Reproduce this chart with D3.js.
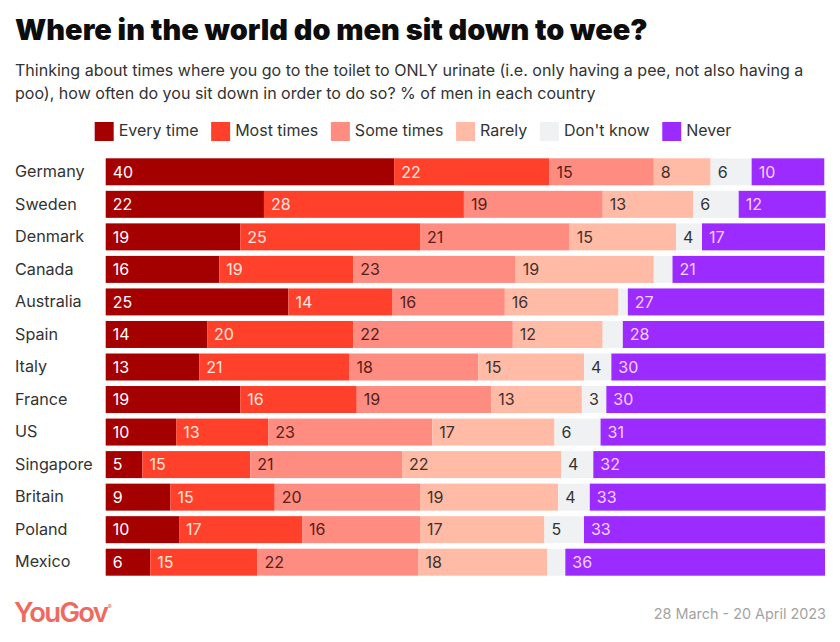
<!DOCTYPE html>
<html>
<head>
<meta charset="utf-8">
<style>
  html, body { margin: 0; padding: 0; background: #fff; }
  svg { display: block; }
  text { font-family: Inter, "Noto Sans", sans-serif; }
  .title { font-size: 28.95px; font-weight: 900; fill: #0d0d0d; }
  .sub { font-size: 16.05px; fill: #333; }
  .legend text { font-size: 16px; fill: #333; }
  .cat text { font-size: 16.2px; fill: #333; }
  .val { font-size: 16px; }
  .logo { font-size: 27.5px; font-weight: 600; fill: #ee6a60; letter-spacing: -1.7px; }
  .reg { font-size: 6px; fill: #ee6a60; }
  .date { font-size: 14.4px; fill: #a3a3a3; }
</style>
</head>
<body>
<svg width="840" height="642"></svg>
<script src="https://d3js.org/d3.v7.min.js"></script>
<script>
var countries = ["Germany", "Sweden", "Denmark", "Canada", "Australia", "Spain", "Italy", "France", "US", "Singapore", "Britain", "Poland", "Mexico"];
var answers = ["Every time", "Most times", "Some times", "Rarely", "Don't know", "Never"];

var everyTime = [40.1, 22.0, 18.7, 15.8, 25.4, 14.1, 13.0, 18.7, 9.8, 5.1, 9.0, 10.2, 6.2];
var mostTimes = [21.6, 27.8, 25.0, 18.6, 14.49, 20.3, 20.9, 16.2, 12.8, 15.0, 14.5, 17.1, 14.9];
var someTimes = [14.5, 19.3, 20.8, 22.6, 15.6, 22.2, 17.9, 18.7, 22.8, 21.1, 20.2, 16.4, 22.4];
var rarely = [7.9, 12.6, 14.8, 19.2, 15.8, 12.49, 14.7, 12.6, 17.0, 22.1, 19.2, 17.3, 17.9];
var dontKnow = [5.7, 6.3, 3.6, 2.6, 1.3, 2.8, 3.8, 3.4, 6.4, 4.49, 4.4, 5.49, 2.5];
var never = [10.1, 12.1, 17.1, 21.1, 27.3, 28.0, 29.8, 30.49, 31.3, 32.2, 32.8, 33.49, 36.1];

var seriesValues = [everyTime, mostTimes, someTimes, rarely, dontKnow, never];

var fills = ["#a50000", "#ff412c", "#ff8c80", "#ffbba6", "#f0f1f3", "#9b2bff"];
var labelColors = ["#ffffff", "#ffe6df", "#56201b", "#3c3230", "#333333", "#f6d2ff"];

var svg = d3.select("svg");

svg.append("text").attr("class", "title").attr("x", 15).attr("y", 40)
    .text("Where in the world do men sit down to wee?");

svg.append("text").attr("class", "sub").attr("x", 15).attr("y", 76)
    .text("Thinking about times where you go to the toilet to ONLY urinate (i.e. only having a pee, not also having a");
svg.append("text").attr("class", "sub").attr("x", 15).attr("y", 99)
    .text("poo), how often do you sit down in order to do so? % of men in each country");

// legend, each item follows the width of the one before
var legend = svg.append("g").attr("class", "legend");
var legendX = 94.7;
answers.forEach(function(name, i) {
    legend.append("rect")
        .attr("x", legendX).attr("y", 122)
        .attr("width", 19).attr("height", 19)
        .attr("fill", fills[i]);
    var t = legend.append("text")
        .attr("x", legendX + 24).attr("y", 135.5)
        .text(name);
    legendX += 24 + t.node().getComputedTextLength() + 12.6;
});

var x = d3.scaleLinear().domain([0, 100]).range([105.7, 825]);
var y = d3.scaleBand().domain(countries).range([158.3, 575.7]).paddingInner(0.17);

var cat = svg.append("g").attr("class", "cat")
    .attr("transform", "translate(" + x(0) + ",0)")
    .call(d3.axisLeft(y).tickSize(0));
cat.select(".domain").remove();
cat.selectAll("text")
    .attr("x", 15 - x(0))
    .style("text-anchor", "start");

var rows = countries.map(function(c, r) {
    var row = {};
    answers.forEach(function(a, s) { row[a] = seriesValues[s][r]; });
    row.country = c;
    return row;
});

var stacked = d3.stack().keys(answers)(rows);

var groups = svg.selectAll(".series")
    .data(stacked)
    .enter().append("g")
    .attr("class", "series");

groups.selectAll("rect")
    .data(function(d) { return d; })
    .enter().append("rect")
    .attr("x", function(d) { return x(d[0]); })
    .attr("y", function(d) { return y(d.data.country); })
    .attr("width", function(d) { return x(d[1]) - x(d[0]); })
    .attr("height", y.bandwidth())
    .attr("fill", function(d, i, nodes) { return fills[answers.indexOf(d3.select(nodes[i].parentNode).datum().key)]; });

groups.selectAll("text")
    .data(function(d) {
        return d.map(function(p) { return { p: p, key: d.key }; });
    })
    .enter().append("text")
    .filter(function(d) { return d.p[1] - d.p[0] >= 3; }) // thin segments stay unlabelled
    .attr("class", "val")
    .attr("x", function(d) { return x(d.p[0]) + 7; })
    .attr("y", function(d) { return y(d.p.data.country) + y.bandwidth() / 2; })
    .attr("dy", "0.36em")
    .attr("fill", function(d) { return labelColors[answers.indexOf(d.key)]; })
    .text(function(d) { return Math.round(d.p[1] - d.p[0]); });

var logo = svg.append("text").attr("class", "logo").attr("x", 14).attr("y", 622).text("YouGov");
svg.append("text").attr("class", "reg")
    .attr("x", 14 + logo.node().getComputedTextLength() + 0.5).attr("y", 609)
    .text("®");
svg.append("text").attr("class", "date").attr("x", 826).attr("y", 618.5)
    .attr("text-anchor", "end")
    .text("28 March - 20 April 2023");
</script>
</body>
</html>
